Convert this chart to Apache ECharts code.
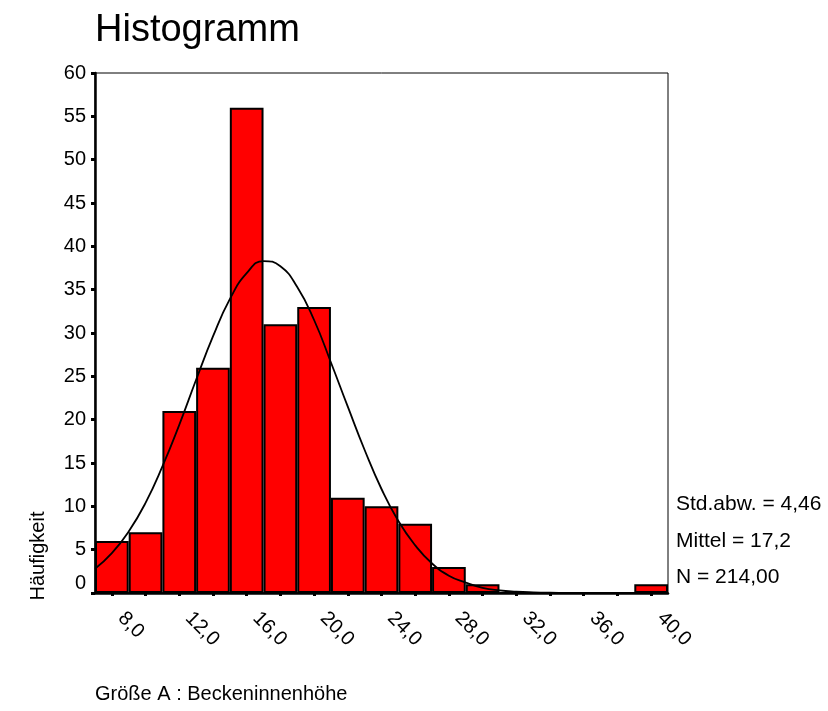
<!DOCTYPE html>
<html>
<head>
<meta charset="utf-8">
<script src="https://cdn.jsdelivr.net/npm/echarts@6/dist/echarts.min.js"></script>
<style>
  html, body { margin: 0; padding: 0; background: #fff; }
  #main { width: 828px; height: 711px; }
</style>
</head>
<body>
<div id="main"></div>
<script>
// Klassenmitten (Breite 2) und Häufigkeiten
var binCenters = [8, 10, 12, 14, 16, 18, 20, 22, 24, 26, 28, 30, 32, 34, 36, 38, 40];
var counts = [6, 7, 21, 26, 56, 31, 33, 11, 10, 8, 3, 1, 0, 0, 0, 0, 1];

// Normalverteilungskurve
var curveX = [7, 8, 9, 10, 11, 12, 13, 14, 15, 16, 17, 18, 19, 20, 21, 22, 23, 24, 25, 26, 27, 28, 29, 30, 31, 32, 33, 34, 36, 38, 41];
var curveY = [2.8, 4.6, 7.1, 10.4, 14.6, 19.4, 24.6, 29.6, 33.9, 36.9, 38.3, 37.7, 35.3, 31.5, 26.6, 21.5, 16.5, 12.0, 8.3, 5.5, 3.4, 2.0, 1.2, 0.6, 0.3, 0.15, 0.07, 0.03, 0, 0, 0];

var statLines = ['Std.abw. = 4,46', 'Mittel = 17,2', 'N = 214,00'];

var FONT = '"Liberation Sans", Arial, sans-serif';

var chart = echarts.init(document.getElementById('main'));

var curveData = [];
for (var i = 0; i < curveX.length; i++) {
  curveData.push([curveX[i], curveY[i]]);
}

var statText = [];
for (var k = 0; k < statLines.length; k++) {
  statText.push({
    type: 'text', left: 676, top: 494 + k * 36.5,
    style: { text: statLines[k], fontSize: 21, fontFamily: FONT, fill: '#000' }
  });
}

var option = {
  animation: false,
  grid: {
    left: 95, right: 160, top: 73, bottom: 118,
    show: true, borderColor: '#000', borderWidth: 1
  },
  xAxis: [
    {
      type: 'category',
      position: 'bottom',
      data: binCenters,
      offset: 3,
      axisLine: { show: false },
      axisTick: { show: true, interval: 0, alignWithLabel: true, length: 3, lineStyle: { color: '#000', width: 3 } },
      axisLabel: {
        interval: 1, rotate: -45, margin: 10, padding: [0, 0, 0, 13],
        fontSize: 20, fontFamily: FONT, color: '#000',
        formatter: function (v) { return Number(v).toFixed(1).replace('.', ','); }
      },
      splitLine: { show: false }
    },
    {
      type: 'value',
      position: 'bottom',
      min: 7, max: 41,
      axisLine: { show: true, lineStyle: { color: '#000', width: 2.5 } },
      axisTick: { show: false },
      axisLabel: { show: false },
      splitLine: { show: false }
    }
  ],
  yAxis: {
    type: 'value',
    min: 0, max: 60, interval: 5,
    axisLine: { show: true, lineStyle: { color: '#000', width: 2.5 } },
    axisTick: { show: true, length: 4, lineStyle: { color: '#000', width: 3 } },
    axisLabel: {
      fontSize: 20, fontFamily: FONT, color: '#000', margin: 9,
      formatter: function (v) { return v === 0 ? '{z|0}' : String(v); },
      rich: { z: { fontSize: 20, fontFamily: FONT, color: '#000', padding: [0, 0, 20, 0] } }
    },
    splitLine: { show: false }
  },
  series: [
    {
      type: 'bar',
      xAxisIndex: 0,
      data: counts,
      barWidth: '100%',
      barCategoryGap: 0,
      itemStyle: { color: '#ff0000', borderColor: '#000', borderWidth: 2 }
    },
    {
      type: 'line',
      xAxisIndex: 1,
      data: curveData,
      smooth: true,
      showSymbol: false,
      lineStyle: { color: '#000', width: 1.8 },
      z: 5
    }
  ],
  graphic: [
    {
      type: 'text', left: 95, top: 12,
      style: { text: 'Histogramm', fontSize: 38, fontFamily: FONT, fill: '#000' }
    },
    {
      type: 'text', left: 95, top: 684,
      style: { text: 'Größe A : Beckeninnenhöhe', fontSize: 20, fontFamily: FONT, fill: '#000' }
    },
    {
      type: 'text', x: 38, y: 556, rotation: Math.PI / 2,
      style: { text: 'Häufigkeit', fontSize: 20, fontFamily: FONT, fill: '#000', align: 'center', verticalAlign: 'middle' }
    }
  ].concat(statText)
};

chart.setOption(option);
</script>
</body>
</html>
